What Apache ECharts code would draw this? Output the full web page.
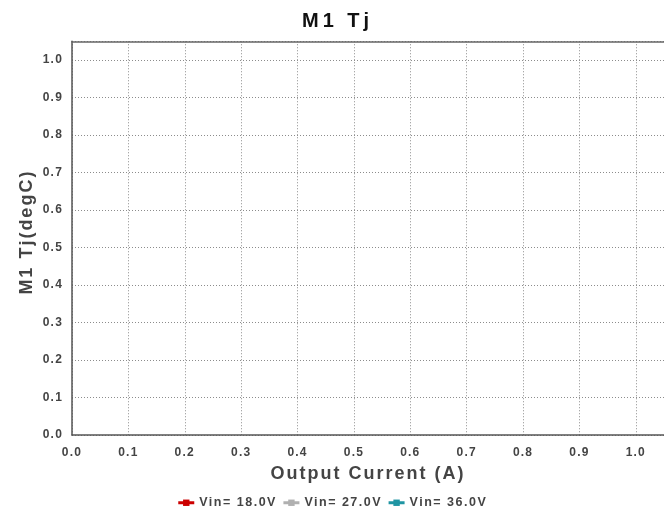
<!DOCTYPE html>
<html>
<head>
<meta charset="utf-8">
<script src="https://cdn.jsdelivr.net/npm/echarts@6/dist/echarts.min.js"></script>
<style>
  html, body { margin: 0; padding: 0; background: #fff; }
  #chart { width: 664px; height: 513px; }
</style>
</head>
<body>
<div id="chart"></div>
<script>
// Chart text
const chartTitle = 'M1 Tj';
const xAxisTitle = 'Output Current (A)';
const yAxisTitle = 'M1 Tj(degC)';

// Series names and colours (one curve per input voltage)
const seriesNames = ['Vin= 18.0V', 'Vin= 27.0V', 'Vin= 36.0V'];
const seriesColors = ['#cc0000', '#b0b0b0', '#1f95a3'];

// Measured points [current, temperature] per series — no samples recorded
const vin18 = [];
const vin27 = [];
const vin36 = [];
const seriesValues = [vin18, vin27, vin36];

// Axis ranges and tick step
const xRange = [0, 1.05];
const yRange = [0, 1.05];
const tickStep = 0.1;

const fontFamily = '"Liberation Sans", Arial, sans-serif';
const sizes = { title: 20, axisName: 18, tick: 12, legend: 12.5 };

// Tracked lettering: extra spacing (px) per font size, applied both when
// text is measured for layout and when it is painted.
const trackingBySize = { 20: 4, 18: 2, 12.5: 1.5, 12: 1.2 };
(function applyTracking() {
  const proto = CanvasRenderingContext2D.prototype;
  if (!('letterSpacing' in proto)) return;
  const spacingFor = font => {
    const m = /(\d+(?:\.\d+)?)px/.exec(font || '');
    const fs = m ? parseFloat(m[1]) : 0;
    const s = trackingBySize[fs];
    return (s !== undefined ? s : fs * 0.1) + 'px';
  };
  const wrap = name => {
    const orig = proto[name];
    proto[name] = function () {
      this.letterSpacing = spacingFor(this.font);
      return orig.apply(this, arguments);
    };
  };
  wrap('fillText');
  wrap('strokeText');
  wrap('measureText');
})();

const chart = echarts.init(document.getElementById('chart'), null, { renderer: 'canvas' });

const tickLabel = {
  color: '#444',
  fontFamily,
  fontWeight: 'bold',
  fontSize: sizes.tick,
  formatter: v => {
    const r = Math.round(v * 10) / 10;
    return Math.abs(r - v) < 1e-9 ? r.toFixed(1) : '';
  }
};

const gridLine = {
  show: true,
  lineStyle: { color: '#8c8c8c', width: 1, type: [1, 2] }
};

const axisNameStyle = { color: '#444', fontFamily, fontWeight: 'bold', fontSize: sizes.axisName };

chart.setOption({
  animation: false,
  backgroundColor: '#fff',
  title: {
    text: chartTitle,
    left: 302,
    top: 9,
    padding: 0,
    textStyle: { color: '#111', fontFamily, fontWeight: 'bold', fontSize: sizes.title }
  },
  legend: {
    bottom: 3,
    left: 'center',
    padding: 0,
    itemWidth: 16,
    itemHeight: 8,
    itemGap: 5,
    lineStyle: { width: 3 },
    textStyle: { color: '#444', fontFamily, fontWeight: 'bold', fontSize: sizes.legend },
    data: seriesNames
  },
  grid: { left: 72, right: -1, top: 41.25, bottom: 78, containLabel: false },
  xAxis: [
    {
      type: 'value',
      min: xRange[0],
      max: xRange[1],
      interval: tickStep,
      name: xAxisTitle,
      nameLocation: 'middle',
      nameGap: 29,
      nameTextStyle: axisNameStyle,
      axisLine: { show: true, lineStyle: { color: '#555', width: 1.5 } },
      axisTick: { show: false },
      axisLabel: Object.assign({ margin: 11, showMaxLabel: false }, tickLabel),
      splitLine: gridLine
    },
    {
      // top frame edge
      type: 'value',
      position: 'top',
      min: xRange[0],
      max: xRange[1],
      axisLine: { show: true, onZero: false, lineStyle: { color: '#666', width: 1.5 } },
      axisTick: { show: false },
      axisLabel: { show: false },
      splitLine: { show: false }
    }
  ],
  yAxis: {
    type: 'value',
    min: yRange[0],
    max: yRange[1],
    interval: tickStep,
    name: yAxisTitle,
    nameLocation: 'middle',
    nameGap: 35,
    nameMoveOverlap: false,
    nameTextStyle: Object.assign({ padding: [0, 0, 0, 12] }, axisNameStyle),
    axisLine: { show: true, lineStyle: { color: '#555', width: 1.5 } },
    axisTick: { show: false },
    axisLabel: Object.assign({ margin: 9, showMaxLabel: false, padding: [2, 0, 0, 0] }, tickLabel),
    splitLine: gridLine
  },
  series: seriesNames.map((name, i) => ({
    name,
    type: 'line',
    xAxisIndex: 0,
    data: seriesValues[i],
    symbol: 'rect',
    symbolSize: 8,
    itemStyle: { color: seriesColors[i] },
    lineStyle: { color: seriesColors[i], width: 3 }
  }))
});
</script>
</body>
</html>
